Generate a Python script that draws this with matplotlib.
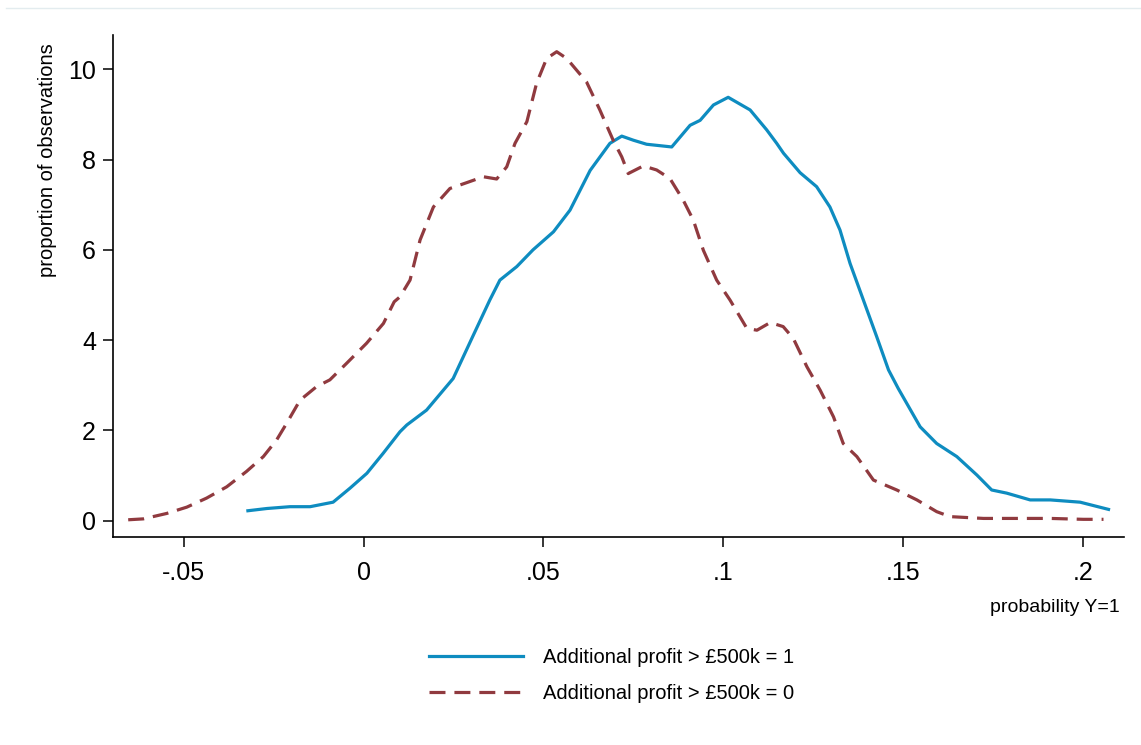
import numpy as np
import matplotlib.pyplot as plt
from matplotlib.lines import Line2D

plt.rcParams['font.family'] = ['Liberation Sans', 'DejaVu Sans']

# kernel density: probability Y=1 vs density
x_one = [-0.0322, -0.0269, -0.0205, -0.0149, -0.0085, -0.0038, 0.0009, 0.0054,
         0.0101, 0.0120, 0.0175, 0.0249, 0.0301, 0.0351, 0.0379, 0.0426, 0.0471,
         0.0528, 0.0574, 0.0630, 0.0685, 0.0718, 0.0750, 0.0787, 0.0857, 0.0908,
         0.0936, 0.0973, 0.1014, 0.1075, 0.1121, 0.1149, 0.1168, 0.1214, 0.1260,
         0.1297, 0.1325, 0.1353, 0.1390, 0.1427, 0.1460, 0.1487, 0.1548, 0.1594,
         0.1650, 0.1706, 0.1747, 0.1789, 0.1854, 0.1910, 0.1993, 0.2072]
y_one = [0.22, 0.27, 0.31, 0.31, 0.41, 0.72, 1.05, 1.49,
         1.97, 2.12, 2.45, 3.15, 4.04, 4.89, 5.33, 5.63, 6.00,
         6.40, 6.88, 7.76, 8.36, 8.52, 8.43, 8.34, 8.28, 8.76,
         8.87, 9.21, 9.38, 9.10, 8.66, 8.36, 8.14, 7.71, 7.40,
         6.95, 6.44, 5.70, 4.89, 4.08, 3.34, 2.93, 2.08, 1.71,
         1.42, 1.01, 0.68, 0.61, 0.46, 0.46, 0.41, 0.25]

x_zero = [-0.0655, -0.0613, -0.0548, -0.0492, -0.0437, -0.0381, -0.0326, -0.0279,
          -0.0242, -0.0214, -0.0177, -0.0131, -0.0094, -0.0047, 0.0008, 0.0055,
          0.0085, 0.0101, 0.0129, 0.0157, 0.0194, 0.0240, 0.0287, 0.0333, 0.0370,
          0.0398, 0.0421, 0.0454, 0.0481, 0.0509, 0.0537, 0.0565, 0.0620, 0.0657,
          0.0694, 0.0718, 0.0736, 0.0778, 0.0815, 0.0852, 0.0889, 0.0917, 0.0945,
          0.0982, 0.1019, 0.1066, 0.1094, 0.1131, 0.1167, 0.1195, 0.1233, 0.1270,
          0.1307, 0.1334, 0.1372, 0.1418, 0.1483, 0.1539, 0.1594, 0.1631, 0.1724,
          0.1910, 0.2002, 0.2058]
y_zero = [0.02, 0.04, 0.16, 0.30, 0.50, 0.75, 1.09, 1.42,
          1.79, 2.16, 2.67, 2.97, 3.12, 3.49, 3.93, 4.37,
          4.85, 4.96, 5.33, 6.22, 6.95, 7.36, 7.49, 7.62, 7.57,
          7.84, 8.36, 8.84, 9.69, 10.24, 10.39, 10.24, 9.72, 9.10,
          8.43, 8.06, 7.69, 7.86, 7.77, 7.58, 7.10, 6.66, 5.99,
          5.33, 4.89, 4.26, 4.22, 4.39, 4.30, 4.04, 3.41, 2.89,
          2.30, 1.71, 1.42, 0.90, 0.68, 0.46, 0.20, 0.09, 0.05,
          0.05, 0.03, 0.03]

x_ticks = [-0.05, 0, 0.05, 0.1, 0.15, 0.2]
x_ticklabels = ['-.05', '0', '.05', '.1', '.15', '.2']
y_ticks = [0, 2, 4, 6, 8, 10]
labels = ['Additional profit > £500k = 1', 'Additional profit > £500k = 0']

blue = '#0e8cc0'
maroon = '#903a3f'

fig = plt.figure(figsize=(11.41, 7.45), dpi=100)
ax = fig.add_axes([0.0988, 0.2788, 0.8866, 0.6742])

ax.plot(x_one, y_one, color=blue, lw=2.3, solid_joinstyle='round')
ax.plot(x_zero, y_zero, color=maroon, lw=2.3, dashes=(5, 2.8))

ax.set_xlim(-0.0698, 0.2116)
ax.set_ylim(-0.368, 10.76)
ax.set_xticks(x_ticks)
ax.set_xticklabels(x_ticklabels)
ax.set_yticks(y_ticks)
ax.tick_params(labelsize=18, length=7, width=1.1, pad=5, colors='black')
ax.tick_params(axis='x', pad=10)

for side in ['top', 'right']:
    ax.spines[side].set_visible(False)
for side in ['left', 'bottom']:
    ax.spines[side].set_linewidth(1.2)

# Stata puts the y title high up, not centred on the axis
ax.set_ylabel('proportion of observations', fontsize=14.5, va='center')
ax.yaxis.set_label_coords(-0.064, 0.751)
fig.text(0.981, 0.184, 'probability Y=1', fontsize=14, ha='right', va='center')

# faint frame line along the top
fig.add_artist(Line2D([0.005, 1.0], [0.989, 0.989], color='#e3ecef', lw=1))

handles = [Line2D([], [], color=blue, lw=2.3),
           Line2D([], [], color=maroon, lw=2.3, dashes=(5, 2.8))]
fig.legend(handles, labels, loc='center', bbox_to_anchor=(0.536, 0.0935),
           frameon=False, fontsize=14.5, handlelength=4.7, handletextpad=1.0,
           labelspacing=0.85)

fig.savefig('out.png', dpi=100)
